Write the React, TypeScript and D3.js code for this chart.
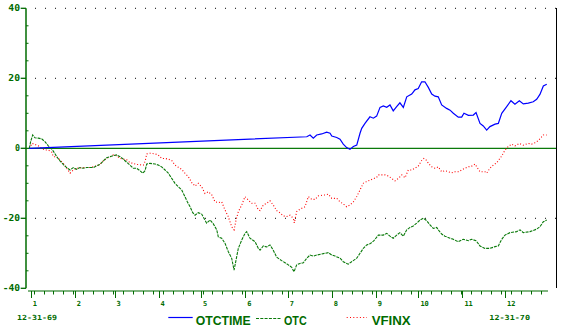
import React from "react";
import * as d3 from "d3";

// Day offsets are days after 12-31-69; values are percent change.
const otcDays = [0,1,2.4,4,6.3,8.7,11,13.4,15.8,16.9,19.3,21.6,23.9,26.3,28.7,31,33.4,35.7,38,40.4,45.1,47.5,49.8,52.1,54.5,56.8,59.2,61.5,63.9,66.2,68.6,70.9,73.2,75.6,78,79.9,81.5,82.7,85,88.5,90.8,93.2,95.6,97.9,100.3,102.6,104.9,107.3,109.6,111.3,113.2,115.1,116.7,119,121.4,123,124.9,127.3,129.6,132,133.1,135.5,137.8,140.1,142.5,144.2,145.6,147.2,149.6,151.9,153.1,155.4,159,161.3,162.5,164.8,167.2,169.5,171.8,174.2,177.7,180.1,182.4,184.8,186.4,188.3,190.6,193,195.4,197.7,200,202.4,205.9,210.6,213,215.3,218.8,221.1,224.6,227,230.6,232.9,235.2,237.6,239.9,242.7,245.8,249.3,251.7,254,256.3,258.7,261,263.4,265.8,268.1,270.4,272.8,275.1,277.5,279.9,282.2,284.5,286.9,288,290.4,292.7,296.3,298.6,302.1,305.6,309.2,311.5,314.6,317.4,320.9,324.4,328,330.3,332.7,335,338.5,343.2,345.6,347.9,352.6,357.3,359.6,362,364.4];
const otcValues = [0,2,3.8,3,2.9,2.7,1.9,0.7,-0.2,-0.8,-2.4,-3.6,-4.6,-5.5,-6.2,-5.5,-6,-5.5,-5.7,-5.5,-5.5,-5,-4.6,-3.6,-2.7,-2.4,-2.1,-1.9,-2.4,-3.1,-4,-4.8,-5.7,-5.7,-6.4,-7.1,-6.4,-4.5,-4.3,-4.5,-4.8,-5.3,-6.2,-7.1,-8.6,-10,-11,-11.9,-13.8,-15.3,-16.7,-18.4,-19.1,-18.4,-18.8,-20,-21.4,-20.5,-21.6,-23.3,-25.3,-25.7,-27.1,-29.5,-31.4,-34.8,-31.9,-28.6,-26.2,-24.3,-23.8,-25.7,-26.7,-28.6,-29.1,-27.9,-28.2,-27.6,-29.1,-31.1,-32.1,-32.7,-33.3,-34,-35.3,-33.3,-32.9,-32.7,-31.4,-30.5,-30.8,-30.5,-30.2,-29.8,-30.5,-30.8,-31.4,-32.4,-33.1,-32.4,-31.4,-30,-28.6,-27.6,-27.3,-26.4,-24.8,-24.8,-24.3,-25.1,-25.7,-24.8,-24.1,-25.1,-23.3,-22.6,-22.2,-21.4,-20.5,-20,-20.7,-21.9,-22.9,-22.6,-23.3,-24.5,-25.1,-25.7,-26,-26.7,-26,-26.4,-26,-26.4,-27.9,-28.6,-28.6,-28.1,-27.9,-26,-24.8,-24.1,-23.8,-23.3,-24.1,-23.8,-23.1,-22.4,-21,-20.5];

const vfinxDays = [0,2,4,6.3,8.7,11,13.4,15.8,16.9,19.3,21.6,23.9,26.3,28.7,31,33.4,38,42.7,47.5,49.8,52.1,54.5,56.8,59.2,61.5,63.9,66.2,68.6,70.9,73.2,75.6,80.3,81.5,82.7,85,88.5,90.8,93.2,95.6,97.9,100.3,102.6,104.9,107.3,109.6,112,114.4,116.7,119,121.4,123.7,126.1,128.5,130.8,133.1,135.5,137.8,140.1,142.5,144.2,145.6,147.2,149.6,151.9,154.2,156.6,159,161.3,162.5,164.8,167.2,169.5,171.8,174.2,176.5,178.9,181.3,183.6,185.9,186.6,188.3,190.6,194.2,196.5,198.9,201.2,203.5,208.2,210.6,213,216.5,218.8,221.1,223.5,225.8,228.2,230.6,232.9,235.2,237.6,239.9,244.6,245.8,250.5,252.8,255.2,257.5,259.9,262.3,264.6,266.9,269.3,271.6,273.9,276.3,277.9,279.9,281,283.4,285.7,288,290.4,292.7,295.1,297.5,299.8,302.1,304.5,306.8,309.2,311.5,313.9,315.1,317.4,320.9,322.1,324.4,326.8,329.2,332.7,335,337.3,339.7,342,345.1,347.9,351.4,353.8,356.1,358.5,362,364.4];
const vfinxValues = [0,1.4,1.1,0.7,0,-0.5,-0.5,-1.1,-2.4,-2.4,-3.3,-4.3,-5.7,-7.1,-6.2,-5.7,-5.5,-5.5,-5,-4.6,-3.6,-2.9,-2.4,-1.9,-2.1,-2.9,-3.1,-3.3,-4.1,-4.3,-4.6,-4.8,-3.8,-1.6,-1.4,-1.6,-1.9,-2.9,-2.9,-3.1,-3.5,-4.8,-5.4,-6,-7.1,-8.1,-9.8,-10.8,-10,-11,-12.9,-12.4,-13.3,-15.3,-15.5,-15.3,-17.6,-19.5,-22.4,-23.3,-20.5,-18.1,-16.2,-13.8,-14.8,-15.7,-15.7,-17.6,-17.8,-16.2,-15.7,-15,-16.2,-17.8,-18.4,-19.3,-19.5,-19.1,-20,-21.3,-18.1,-17.4,-16.7,-13.8,-14.6,-14.6,-13.6,-13.3,-13.1,-14.3,-14.3,-15.3,-15.9,-16.7,-16.2,-15.3,-13.8,-11.9,-10,-9.5,-9.1,-8.3,-7.6,-7.6,-7.9,-8.6,-9.3,-8.6,-7.6,-8.4,-6.2,-6.2,-5.7,-5.1,-3.5,-2.9,-3.5,-4.3,-5.3,-5.7,-5.3,-6.7,-6.4,-6.7,-7,-6.7,-6.7,-6.2,-5.7,-5.3,-5.1,-4.5,-5.3,-6.7,-6.7,-7.1,-5.7,-4.8,-4.1,-2.2,-0.5,0.5,1.2,0.7,1.4,0.9,1.4,1.2,1.6,2.2,3.8,3.8];

const otcTimeDays = [0,195.4,197.7,200,202.4,205.9,209.4,211.8,213,216.5,218.8,221.1,223.5,225.8,228.2,230.6,232.9,234.1,236.4,239.9,242.3,244.6,247,249.3,251.7,254,256.3,258.7,261,263.4,265.8,269.3,271.6,273.9,276.3,278.6,281,283.4,285.7,288,290.4,293.9,296.3,298.6,302.1,304.5,306.1,309.2,312.7,314.6,317.4,319.7,322.1,324.4,328,330.3,332.7,336.2,339.2,342,345.1,347.9,351.4,354.9,357.3,359.6,362,364.4];
const otcTimeValues = [0,3.3,3.8,2.9,3.8,4.1,4.6,4.3,3.5,3.1,2.6,1.2,0.2,-0.3,0.5,0.9,4.3,5.7,7.1,9,8.6,9.2,11.7,12.1,11.7,12.4,10.7,11.9,13,11.7,14.7,15.5,16.7,17.1,19,19,17.4,15.5,14.9,14.7,12.4,11.4,10.9,10,8.9,8.9,10,9.4,9.5,10.2,7.1,6.4,5.2,6.2,6.9,7.1,10,11.9,13.6,12.6,13.6,12.7,12.9,13.3,14,15.4,17.8,18.3];

const yTickValues = [40, 20, 0, -20, -40];
const gridValues = [40, 20, -20];
const startLabel = "12-31-69";
const endLabel = "12-31-70";
const legendNames = ["OTCTIME", "OTC", "VFINX"];

const W = 565, H = 333;
const GREEN = "#006b00";
const LINEGREEN = "#0a7a0a";

const base = Date.UTC(1969, 11, 31);
const toDate = (d: number) => new Date(base + d * 864e5);

export default function App() {
  const x = d3.scaleUtc().domain([new Date(Date.UTC(1969, 11, 31)), new Date(Date.UTC(1970, 11, 31))]).range([29.3, 547.6]);
  const y = d3.scaleLinear().domain([-40, 40]).range([288.3, 8.3]);
  const months = d3.utcMonth.range(new Date(Date.UTC(1970, 0, 1)), new Date(Date.UTC(1971, 0, 1)));
  const weeks = d3.utcSaturday.range(new Date(Date.UTC(1970, 0, 2)), new Date(Date.UTC(1970, 11, 31)));
  const minorY = d3.range(-40, 41, 5).filter((v) => v % 20 !== 0);

  const mk = (days: number[], vals: number[]) =>
    d3.line<number>().x((_, i) => x(toDate(days[i]))).y((v) => y(v))(vals) || "";

  const monoFont = "'DejaVu Sans Mono', monospace";
  const yLabelLen: Record<string, number> = { "40": 11.7, "20": 11.7, "0": 5, "-20": 17.3, "-40": 17.3 };
  const axisY = 291;
  const x0 = 26;
  const xRight = 556;

  return (
    <svg width={W} height={H} style={{ position: "absolute", left: 0, top: 0, background: "#fff" }}>
      <rect width={W} height={H} fill="#fff" />
      {/* dotted grid */}
      {gridValues.map((v) => (
        <line key={"g" + v} x1={35} x2={xRight} y1={y(v)} y2={y(v)} stroke="#000" strokeWidth={1} strokeDasharray="1 9" />
      ))}
      {/* zero line */}
      <line x1={x0} x2={xRight} y1={y(0)} y2={y(0)} stroke={LINEGREEN} strokeWidth={1.2} />
      {/* right border */}
      <line x1={xRight + 0.5} x2={xRight + 0.5} y1={8} y2={288} stroke="#000" strokeWidth={1} />
      {/* y axis */}
      <line x1={x0} x2={x0} y1={y(40)} y2={y(-40)} stroke={GREEN} strokeWidth={1.5} />
      {yTickValues.map((v) => (
        <g key={"yt" + v}>
          <line x1={20.7} x2={x0} y1={y(v)} y2={y(v)} stroke={GREEN} strokeWidth={1.3} />
          <text x={20} y={y(v) + 2.6} textAnchor="end" fontFamily={monoFont} fontWeight="bold" fontSize={8} fill={GREEN}
            textLength={yLabelLen[String(v)]} lengthAdjust="spacingAndGlyphs">{String(v)}</text>
        </g>
      ))}
      {minorY.map((v) => (
        <line key={"ym" + v} x1={x0} x2={x0 + 2.5} y1={y(v)} y2={y(v)} stroke={GREEN} strokeWidth={1} />
      ))}
      {/* x axis */}
      <line x1={28} x2={548} y1={axisY} y2={axisY} stroke={GREEN} strokeWidth={1.2} />
      {weeks.map((d, i) => (
        <line key={"w" + i} x1={Math.round(x(d)) + 0.5} x2={Math.round(x(d)) + 0.5} y1={axisY} y2={axisY + 3.5} stroke={GREEN} strokeWidth={1} />
      ))}
      {months.map((d, i) => (
        <g key={"m" + i}>
          <line x1={Math.round(x(d)) + 0.5} x2={Math.round(x(d)) + 0.5} y1={axisY} y2={axisY + 7} stroke={GREEN} strokeWidth={1} />
          <text x={x(d) + 2} y={306} fontFamily={monoFont} fontWeight="bold" fontSize={7} fill={GREEN}>{String(i + 1)}</text>
        </g>
      ))}
      <text x={17} y={319.5} fontFamily={monoFont} fontWeight="bold" fontSize={7} fill={GREEN} textLength={40} lengthAdjust="spacingAndGlyphs">{startLabel}</text>
      <text x={489.3} y={320} fontFamily={monoFont} fontWeight="bold" fontSize={7} fill={GREEN} textLength={40.7} lengthAdjust="spacingAndGlyphs">{endLabel}</text>

      {/* series */}
      <path d={mk(vfinxDays, vfinxValues)} fill="none" stroke="#ff0000" strokeWidth={1.1} strokeDasharray="1 2" />
      <path d={mk(otcDays, otcValues)} fill="none" stroke={LINEGREEN} strokeWidth={1.1} strokeDasharray="3 1" />
      <path d={mk(otcTimeDays, otcTimeValues)} fill="none" stroke="#0000ff" strokeWidth={1.2} />

      {/* legend */}
      <line x1={168.3} x2={192.7} y1={317.5} y2={317.5} stroke="#0000ff" strokeWidth={1.2} />
      <text x={195.7} y={324.5} fontFamily="'Liberation Sans', Arial, sans-serif" fontWeight="bold" fontSize={13} fill={GREEN} textLength={55} lengthAdjust="spacingAndGlyphs">{legendNames[0]}</text>
      <line x1={256} x2={281.7} y1={318.5} y2={318.5} stroke={LINEGREEN} strokeWidth={1.1} strokeDasharray="3 1.3" />
      <text x={284} y={324.5} fontFamily="'Liberation Sans', Arial, sans-serif" fontWeight="bold" fontSize={13} fill={GREEN} textLength={22.7} lengthAdjust="spacingAndGlyphs">{legendNames[1]}</text>
      <line x1={346.7} x2={367} y1={317.5} y2={317.5} stroke="#ff0000" strokeWidth={1.1} strokeDasharray="1 2.3" />
      <text x={371.7} y={324.5} fontFamily="'Liberation Sans', Arial, sans-serif" fontWeight="bold" fontSize={13} fill={GREEN} textLength={39} lengthAdjust="spacingAndGlyphs">{legendNames[2]}</text>
    </svg>
  );
}
